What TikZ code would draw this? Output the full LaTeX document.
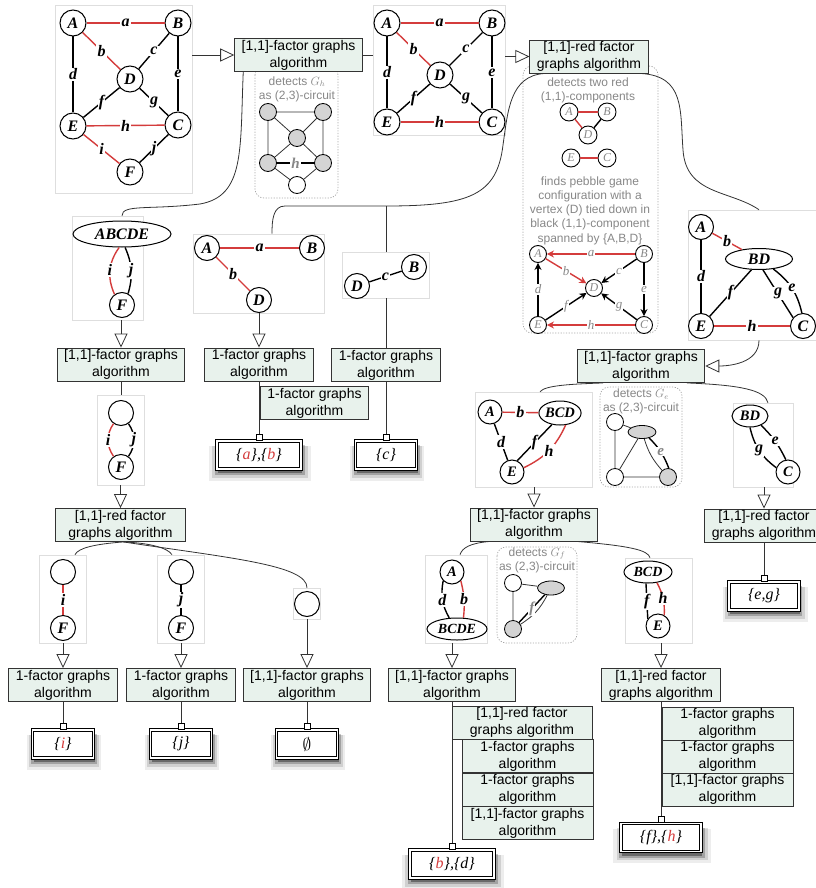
\documentclass[tikz,border=0pt]{standalone}
\usepackage{fontspec}
\setmainfont{Liberation Sans}
\newfontfamily\graphfont{Liberation Serif}
\usetikzlibrary{arrows.meta,shapes.geometric,shadows}

\begin{document}
\begin{tikzpicture}[x=1pt, y=-1pt,
  frame/.style={draw=framegray, fill=white, line width=0.6pt, inner sep=0pt},
  algbox/.style={draw=black!80, fill=boxfill, line width=0.9pt, align=center,
    font=\fontsize{14}{17}\selectfont, inner xsep=7pt, inner ysep=1pt,
    minimum height=33pt},
  vtx/.style={circle, draw, line width=1pt, fill=white, minimum size=25pt,
    inner sep=0pt, font=\graphfont\bfseries\itshape\fontsize{16}{16}\selectfont},
  smallvtx/.style={vtx, minimum size=24pt,
    font=\graphfont\bfseries\itshape\fontsize{14.5}{14.5}\selectfont},
  bigvtx/.style={vtx, ellipse},
  edge/.style={line width=1.4pt},
  redge/.style={edge, draw=redline},
  elab/.style={fill=white, inner sep=1.2pt,
    font=\graphfont\bfseries\itshape\fontsize{16}{16}\selectfont},
  flow/.style={draw=black!80, line width=0.8pt},
  call/.style={flow, -{Triangle[open, length=14pt, width=13pt]}},
  note/.style={draw=black!35, dash pattern=on 1.2pt off 1.5pt, line width=0.7pt,
    rounded corners=9pt},
  notetext/.style={text=notegray, font=\fontsize{12}{14.2}\selectfont, align=center},
  ghost/.style={circle, draw, line width=0.8pt, fill=minigray, minimum size=17pt,
    inner sep=0pt},
  ghostblob/.style={ghost, ellipse},
  thinedge/.style={draw=black!80, line width=0.8pt},
  minivtx/.style={circle, draw, line width=0.9pt, fill=white, minimum size=18pt,
    inner sep=0pt, text=notegray, font=\graphfont\itshape\fontsize{12}{12}\selectfont},
  minilab/.style={fill=white, inner sep=1pt, text=notegray,
    font=\graphfont\itshape\fontsize{13}{13}\selectfont},
  ghostlab/.style={minilab, font=\graphfont\bfseries\itshape\fontsize{15}{15}\selectfont},
  pebble/.style={edge, -{Stealth[length=7pt, width=7pt]}},
  soft shade/.style={
    general shadow={fill=black, opacity=0.07, shadow xshift=1pt, shadow yshift=-7pt, shadow scale=1.22},
    general shadow={fill=black, opacity=0.12, shadow xshift=1pt, shadow yshift=-6pt, shadow scale=1.14},
    general shadow={fill=black, opacity=0.22, shadow xshift=1pt, shadow yshift=-5pt, shadow scale=1.07},
    general shadow={fill=black, opacity=0.35, shadow xshift=1pt, shadow yshift=-4pt}},
  result/.style={draw, double, double distance=1.8pt, line width=1pt, fill=white,
    soft shade, minimum width=61pt, minimum height=28pt, inner xsep=19pt,
    font=\graphfont\itshape\fontsize{16}{16}\selectfont},
  port/.style={draw, fill=white, line width=0.7pt, minimum size=6pt, inner sep=0pt}
]
% Define colours
\definecolor{boxfill}{RGB}{232,242,236}
\definecolor{redline}{RGB}{212,60,60}
\definecolor{framegray}{RGB}{222,222,222}
\definecolor{notegray}{RGB}{135,135,135}
\definecolor{minigray}{RGB}{212,212,212}

\useasboundingbox (0,0) rectangle (815,888);

% Draw hint panels behind the boxes
\draw[note] (255,66) rectangle (338,198);
\draw[note] (523,66) rectangle (658,333);
\draw[note] (600,387) rectangle (682,487);
\draw[note] (497,547) rectangle (577,643);

% Draw input graph
\node[frame, minimum width=137pt, minimum height=188pt] (fr0) at (123.5,99) {};
\node[vtx, minimum size=26pt] (A0) at (73,23) {A};
\node[vtx, minimum size=26pt] (B0) at (178,23) {B};
\node[vtx, minimum size=26pt] (D0) at (130,79) {D};
\node[vtx, minimum size=26pt] (E0) at (73,126) {E};
\node[vtx, minimum size=26pt] (C0) at (178,125) {C};
\node[vtx, minimum size=26pt] (F0) at (130,172) {F};
\draw[redge] (A0) -- node[elab]{a} (B0);
\draw[redge] (A0) -- node[elab]{b} (D0);
\draw[edge] (B0) -- node[elab]{c} (D0);
\draw[edge] (A0) -- node[elab]{d} (E0);
\draw[edge] (B0) -- node[elab]{e} (C0);
\draw[edge] (D0) -- node[elab]{f} (E0);
\draw[edge] (D0) -- node[elab]{g} (C0);
\draw[redge] (E0) -- node[elab]{h} (C0);
\draw[redge] (E0) -- node[elab]{i} (F0);
\draw[edge] (C0) -- node[elab]{j} (F0);

% Hint: G_h circuit
\node[notetext] (n1) at (297,89) {detects $G_h$\\as (2,3)-circuit};
\node[ghost] (h1) at (268,112) {};
\node[ghost] (h2) at (323,112) {};
\node[ghost] (h3) at (297,138) {};
\node[ghost] (h4) at (268,163) {};
\node[ghost] (h5) at (323,163) {};
\node[ghost, fill=white] (h6) at (297,185) {};
\draw[thinedge] (h1) -- (h2) (h1) -- (h4) (h2) -- (h5) (h1) -- (h3) (h2) -- (h3)
  (h3) -- (h4) (h3) -- (h5) (h4) -- (h6) (h5) -- (h6);
\draw[edge] (h4) -- node[ghostlab]{h} (h5);

% Graph after first pass
\node[frame, minimum width=132pt, minimum height=130pt] (fr1) at (439,70) {};
\node[vtx, minimum size=26pt] (A1) at (387,23) {A};
\node[vtx, minimum size=26pt] (B1) at (492,23) {B};
\node[vtx, minimum size=26pt] (D1) at (440,75) {D};
\node[vtx, minimum size=26pt] (E1) at (387,122) {E};
\node[vtx, minimum size=26pt] (C1) at (492,122) {C};
\draw[redge] (A1) -- node[elab]{a} (B1);
\draw[redge] (A1) -- node[elab]{b} (D1);
\draw[edge] (B1) -- node[elab]{c} (D1);
\draw[edge] (A1) -- node[elab]{d} (E1);
\draw[edge] (B1) -- node[elab]{e} (C1);
\draw[edge] (D1) -- node[elab]{f} (E1);
\draw[edge] (D1) -- node[elab]{g} (C1);
\draw[redge] (E1) -- node[elab]{h} (C1);

% Hint: red components and pebble game
\node[notetext] (n2a) at (588,90.5) {detects two red\\(1,1)-components};
\node[minivtx] (mA) at (569,112) {A};
\node[minivtx] (mB) at (607,112) {B};
\node[minivtx] (mD) at (588,135) {D};
\node[minivtx] (mE) at (571,158) {E};
\node[minivtx] (mC) at (607,158) {C};
\draw[redge] (mA) -- (mB);
\draw[redge] (mA) -- (mD);
\draw[edge] (mB) -- (mD);
\draw[redge] (mE) -- (mC);
\node[notetext] (n2b) at (590,210.5) {finds pebble game\\configuration with a\\vertex (D) tied down in\\black (1,1)-component\\spanned by \{A,B,D\}};
\node[minivtx, minimum size=17pt] (pA) at (538,254) {A};
\node[minivtx, minimum size=17pt] (pB) at (644,254) {B};
\node[minivtx, minimum size=17pt] (pD) at (594,288) {D};
\node[minivtx, minimum size=17pt] (pE) at (538,325) {E};
\node[minivtx, minimum size=17pt] (pC) at (644,325) {C};
\draw[redge, pebble] (pB) -- node[minilab]{a} (pA);
\draw[redge, pebble] (pA) -- node[minilab]{b} (pD);
\draw[pebble] (pB) -- node[minilab]{c} (pD);
\draw[pebble] (pE) -- node[minilab]{d} (pA);
\draw[pebble] (pB) -- node[minilab]{e} (pC);
\draw[pebble] (pE) -- node[minilab]{f} (pD);
\draw[pebble] (pC) -- node[minilab]{g} (pD);
\draw[redge, pebble] (pC) -- node[minilab]{h} (pE);

% Contracted graph with BD
\node[frame, minimum width=142pt, minimum height=130pt] (fr2) at (759,275) {};
\node[vtx] (A2) at (701,227) {A};
\node[bigvtx, minimum width=67pt, minimum height=21pt] (BD2) at (759,259) {BD};
\node[vtx] (E2) at (701,326) {E};
\node[vtx] (C2) at (803,326) {C};
\draw[redge] (A2) -- node[elab]{b} (BD2);
\draw[edge] (A2) -- node[elab]{d} (E2);
\draw[edge] (BD2.-125) -- node[elab]{f} (E2);
\draw[edge] (BD2.-70) -- node[elab]{g} (C2.140);
\draw[edge] (BD2.-35) to[bend left=20] node[elab]{e} (C2.95);
\draw[redge] (E2) -- node[elab]{h} (C2);

% Algorithm boxes, first row
\node[algbox] (b1) at (298.5,55) {[1,1]-factor graphs\\algorithm};
\node[algbox] (b2) at (589,56.5) {[1,1]-red factor\\graphs algorithm};
\draw[call] (fr0.east |- b1.west) -- (b1.west);
\draw[flow] (b1.east) -- (fr1.west |- b1.east);
\draw[call] (fr1.east |- b2.west) -- (b2.west);

% Second row of subgraphs
\node[frame, minimum width=71pt, minimum height=104pt] (fr3) at (107.5,268) {};
\node[bigvtx, minimum width=98pt, minimum height=26pt] (ABCDE) at (122,234) {ABCDE};
\node[vtx] (F3) at (122,305) {F};
\draw[redge] (ABCDE.258) to[bend right=30] node[elab]{i} (F3.125);
\draw[edge] (ABCDE.283) to[bend left=20] node[elab]{j} (F3.62);

\node[frame, minimum width=131pt, minimum height=79pt] (fr4) at (258.5,273.5) {};
\node[vtx] (A4) at (207,248) {A};
\node[vtx] (B4) at (312,248) {B};
\node[vtx] (D4) at (259,300) {D};
\draw[redge] (A4) -- node[elab]{a} (B4);
\draw[redge] (A4) -- node[elab]{b} (D4);

\node[frame, minimum width=87pt, minimum height=46pt] (fr5) at (386,275) {};
\node[vtx] (D5) at (357,286) {D};
\node[vtx] (B5) at (414,267) {B};
\draw[edge] (D5) -- node[elab]{c} (B5);

% Links from the first row
\coordinate (fork) at (386,206);
\draw[flow] ([xshift=9pt]b1.south west) .. controls (240,150) and (245,196) .. (200,204)
  .. controls (150,210) and (122,204) .. (ABCDE |- fr3.north);
\draw[flow] ([xshift=15pt]b2.south west) .. controls (510,76) and (508,110) .. (503,145)
  .. controls (497,195) and (470,206) .. (fork) -- (285,206)
  .. controls (273,206) and (272,220) .. ([xshift=13.5pt]fr4.north);
\draw[flow] (fork) -- (fr5.north);
\draw[flow] ([xshift=-8pt]b2.south east) .. controls (685,76) and (680,110) .. (683,150)
  .. controls (686,195) and (730,190) .. (fr2.north);

% Boxes and results of the second row
\node[algbox] (b3) at (121,364.5) {[1,1]-factor graphs\\algorithm};
\node[algbox] (b4) at (259,364.5) {1-factor graphs\\algorithm};
\node[algbox] (b5) at (386,365) {1-factor graphs\\algorithm};
\node[result, minimum width=80pt] (r1) at (259,455) {\{{\color{redline}a}\},\{{\color{redline}b}\}};
\node[result] (r2) at (386,455) {\{c\}};
\node[port, anchor=south] (p1) at (r1.north) {};
\node[port, anchor=south] (p2) at (r2.north) {};
\draw[call] (b3.north |- fr3.south) -- (b3.north);
\draw[call] (b4.north |- fr4.south) -- (b4.north);
\draw[flow] (fr5.south) -- (b5.north);
\draw[flow] (b4.south) -- (p1.north);
\draw[flow] (b5.south) -- (p2.north);
\node[algbox] (b6) at (314.5,403) {1-factor graphs\\algorithm};

% Left column: the i, j loop
\node[frame, minimum width=47pt, minimum height=90pt] (fr6) at (120.5,440) {};
\node[vtx] (V6) at (121,413) {};
\node[vtx] (F6) at (121,467) {F};
\draw[redge] (V6.235) to[bend right=35] node[elab]{i} (F6.125);
\draw[edge] (V6.305) to[bend left=35] node[elab]{j} (F6.55);
\draw[flow] (b3.south) -- (b3.south |- fr6.north);
\node[algbox, minimum width=130pt] (b7) at (120.5,525) {[1,1]-red factor\\graphs algorithm};
\draw[call] (fr6.south) -- (b7.north);

\node[frame, minimum width=47pt, minimum height=88pt] (fr7) at (63,599) {};
\node[vtx] (V7) at (63,572) {};
\node[vtx] (F7) at (63,628) {F};
\draw[redge] (V7) -- node[elab]{i} (F7);
\node[frame, minimum width=47pt, minimum height=88pt] (fr8) at (181,599) {};
\node[vtx] (V8) at (181,572) {};
\node[vtx] (F8) at (181,628) {F};
\draw[edge] (V8) -- node[elab]{j} (F8);
\node[frame, minimum width=27pt, minimum height=31pt] (fr9) at (307,603.5) {};
\node[vtx] (V9) at (307,604) {};
\draw[flow] ([xshift=3pt]b7.south) .. controls (95,544) and (78,548) .. ([xshift=12pt]fr7.north);
\draw[flow] ([xshift=3pt]b7.south) .. controls (150,543) and (168,548) .. ([xshift=-9pt]fr8.north);
\draw[flow] ([xshift=3pt]b7.south) .. controls (230,558) and (307,565) .. (fr9.north);

\node[algbox] (b8) at (63,685) {1-factor graphs\\algorithm};
\node[algbox] (b9) at (181,685) {1-factor graphs\\algorithm};
\node[algbox] (b10) at (307,685) {[1,1]-factor graphs\\algorithm};
\draw[call] (fr7.south) -- (b8.north);
\draw[call] (fr8.south) -- (b9.north);
\draw[call] (fr9.south) -- (b10.north);
\node[result] (r3) at (63,744) {\{{\color{redline}i}\}};
\node[result] (r4) at (181,744) {\{j\}};
\node[result] (r5) at (307,744) {$\emptyset$};
\node[port, anchor=south] (p3) at (r3.north) {};
\node[port, anchor=south] (p4) at (r4.north) {};
\node[port, anchor=south] (p5) at (r5.north) {};
\draw[flow] (b8.south) -- (p3.north);
\draw[flow] (b9.south) -- (p4.north);
\draw[flow] (b10.south) -- (p5.north);

% Right branch: contracted graph again
\node[algbox] (b11) at (641,366) {[1,1]-factor graphs\\algorithm};
\draw[call] (fr2.south) to[out=-90, in=0] (b11.east);

\node[notetext] (n3) at (641,401.5) {detects $G_e$\\as (2,3)-circuit};
\node[ghost, fill=white] (e1) at (615,422) {};
\node[ghostblob, minimum width=28pt, minimum height=13pt] (e2) at (642,432) {};
\node[ghost, fill=white] (e3) at (615,477) {};
\node[ghost] (e4) at (668,477) {};
\draw[thinedge] (e1) -- (e2) (e1) -- (e3) (e2) -- (e3) (e3) -- (e4);
\draw[thinedge] (e2) to[bend right=12] (e4);
\draw[edge] (e2.-40) to[bend left=12] node[ghostlab]{e} (e4.85);

\node[frame, minimum width=117pt, minimum height=95pt] (fr10) at (533.5,439.5) {};
\node[smallvtx] (A10) at (490,412) {A};
\node[bigvtx, minimum width=42pt, minimum height=24pt,
  font=\graphfont\bfseries\itshape\fontsize{14.5}{14.5}\selectfont] (BCD10) at (560,413) {BCD};
\node[smallvtx] (E10) at (512,472) {E};
\draw[redge] (A10) -- node[elab]{b} (BCD10);
\draw[edge] (A10) -- node[elab]{d} (E10);
\draw[edge] (BCD10.235) -- node[elab]{f} (E10.65);
\draw[redge] (BCD10.295) to[bend left=20] node[elab]{h} (E10.20);

\node[frame, minimum width=60pt, minimum height=84pt] (fr11) at (763,445) {};
\node[bigvtx, minimum width=36pt, minimum height=22pt,
  font=\graphfont\bfseries\itshape\fontsize{14.5}{14.5}\selectfont] (BD11) at (750,416) {BD};
\node[smallvtx] (C11) at (788,472) {C};
\draw[edge] (BD11.-90) to[bend right=20] node[elab]{g} (C11.160);
\draw[edge] (BD11.-40) to[bend left=10] node[elab]{e} (C11.100);

\draw[flow] ([xshift=-38pt]b11.south) .. controls (575,384) and (545,385) .. ([xshift=6.5pt]fr10.north);
\draw[flow] ([xshift=46pt]b11.south) .. controls (740,385) and (765,390) .. ([xshift=5pt]fr11.north);

\node[algbox] (b12) at (534,524.5) {[1,1]-factor graphs\\algorithm};
\node[algbox] (b13) at (764,525.5) {[1,1]-red factor\\graphs algorithm};
\draw[call] (b12.north |- fr10.south) -- (b12.north);
\draw[call] (b13.north |- fr11.south) -- (b13.north);
\node[result, minimum width=66pt] (r6) at (764,596) {\{e,g\}};
\node[port, anchor=south] (p6) at (r6.north) {};
\draw[flow] (b13.south) -- (p6.north);

% Third level on the right
\node[notetext] (n4) at (537,560) {detects $G_f$\\as (2,3)-circuit};
\node[ghost, fill=white] (f1) at (513,583) {};
\node[ghostblob, minimum width=27pt, minimum height=14pt] (f2) at (551,588) {};
\node[ghost] (f3) at (513,629) {};
\draw[thinedge] (f1) -- (f2) (f1) -- (f3);
\draw[thinedge] (f2) to[bend left=15] (f3);
\draw[edge] (f2) -- node[ghostlab]{f} (f3);

\node[frame, minimum width=62pt, minimum height=88pt] (fr12) at (456,599) {};
\node[smallvtx] (A12) at (452,572) {A};
\node[bigvtx, minimum width=60pt, minimum height=22pt,
  font=\graphfont\bfseries\itshape\fontsize{14}{14}\selectfont] (BCDE12) at (457,629) {BCDE};
\draw[edge] (A12.225) to[bend right=20] node[elab]{d} (BCDE12.125);
\draw[redge] (A12.-45) to[bend left=10] node[elab]{b} (BCDE12.60);

\node[frame, minimum width=67pt, minimum height=85pt] (fr13) at (658.5,600.5) {};
\node[bigvtx, minimum width=48pt, minimum height=22pt,
  font=\graphfont\bfseries\itshape\fontsize{14}{14}\selectfont] (BCD13) at (648,572) {BCD};
\node[smallvtx] (E13) at (658,626) {E};
\draw[edge] (BCD13.-100) -- node[elab]{f} (E13.145);
\draw[redge] (BCD13.-50) to[bend left=15] node[elab]{h} (E13.60);

\draw[flow] ([xshift=-44pt]b12.south) .. controls (470,543) and (462,548) .. ([xshift=4pt]fr12.north);
\draw[flow] ([xshift=43pt]b12.south) .. controls (630,546) and (648,550) .. ([xshift=-8.5pt]fr13.north);

\node[algbox] (b14) at (452,685) {[1,1]-factor graphs\\algorithm};
\node[algbox] (b15) at (661,685) {[1,1]-red factor\\graphs algorithm};
\draw[call] (b14.north |- fr12.south) -- (b14.north);
\draw[call] (b15.north |- fr13.south) -- (b15.north);

% Call stacks and results
\node[result, minimum width=80pt] (r7) at (452,864) {\{{\color{redline}b}\},\{d\}};
\node[port, anchor=south] (p7) at (r7.north) {};
\draw[flow] (b14.south) -- (p7.north);
\node[algbox, minimum width=140pt] (s1) at (522,722.5) {[1,1]-red factor\\graphs algorithm};
\node[algbox, minimum width=131pt] (s2) at (527.5,756) {1-factor graphs\\algorithm};
\node[algbox, minimum width=131pt] (s3) at (527.5,789.5) {1-factor graphs\\algorithm};
\node[algbox, minimum width=131pt] (s4) at (527.5,823) {[1,1]-factor graphs\\algorithm};

\node[result, minimum width=78pt] (r8) at (661,837.5) {\{f\},\{{\color{redline}h}\}};
\node[port, anchor=south] (p8) at (r8.north) {};
\draw[flow] (b15.south) -- (p8.north);
\node[algbox, minimum width=131pt] (t1) at (727.5,723.5) {1-factor graphs\\algorithm};
\node[algbox, minimum width=131pt] (t2) at (727.5,756.5) {1-factor graphs\\algorithm};
\node[algbox, minimum width=131pt] (t3) at (727.5,789.5) {[1,1]-factor graphs\\algorithm};
\end{tikzpicture}
\end{document}
